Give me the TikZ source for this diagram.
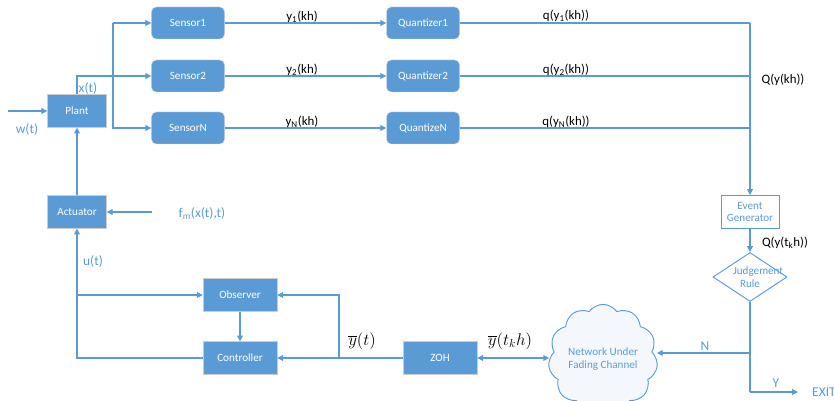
\documentclass[tikz,border=0pt]{standalone}
\usepackage{fontspec}
\setmainfont{Carlito}
\usetikzlibrary{arrows.meta,shapes.geometric,shapes.symbols}
\definecolor{boxblue}{HTML}{5B9BD5}
\definecolor{lineblue}{HTML}{5B9BD5}
\definecolor{cloudfill}{HTML}{F4F8FD}

\begin{document}
\begin{tikzpicture}[x=0.03cm,y=-0.03cm,
    arr/.style={-{Triangle[length=5pt,width=5pt]},line width=0.9pt,draw=lineblue},
    dblarr/.style={{Triangle[length=5pt,width=5pt]}-{Triangle[length=5pt,width=5pt]},line width=0.9pt,draw=lineblue},
    wire/.style={line width=0.9pt,draw=lineblue},
    roundbox/.style={draw=gray!30,fill=boxblue,text=white,rounded corners=4pt,minimum width=2.19cm,minimum height=0.96cm,inner sep=1pt,font=\fontsize{9.5}{11}\selectfont},
    sqbox/.style={draw=gray!40,fill=boxblue,text=white,minimum height=0.98cm,inner sep=1pt,font=\fontsize{9.5}{11}\selectfont},
    whitebox/.style={draw=lineblue,line width=0.8pt,fill=white,text=lineblue,align=center,minimum width=1.74cm,minimum height=0.99cm,inner sep=1pt,font=\fontsize{9.5}{11}\selectfont},
    judgebox/.style={diamond,draw=lineblue,line width=0.8pt,fill=white,text=lineblue,align=center,text width=1cm,aspect=1.5,inner sep=0pt,minimum width=2.22cm,minimum height=1.47cm,font=\fontsize{9.5}{11}\selectfont},
    netcloud/.style={cloud,cloud puffs=11,cloud puff arc=110,draw=lineblue,line width=0.8pt,fill=cloudfill,text=lineblue,align=center,minimum width=3.05cm,minimum height=2.25cm,inner sep=0pt,font=\fontsize{9.5}{11}\selectfont},
    sig/.style={font=\fontsize{11}{13}\selectfont},
    bsig/.style={text=lineblue,font=\fontsize{11.5}{13}\selectfont},
    msig/.style={font=\fontsize{14}{16}\selectfont}]

    \useasboundingbox (0,0) rectangle (834,401);

    \node[roundbox] (s1) at (188,23) {Sensor1};
    \node[roundbox] (s2) at (188,76) {Sensor2};
    \node[roundbox] (sN) at (188,128) {SensorN};

    \node[roundbox] (q1) at (423,23) {Quantizer1};
    \node[roundbox] (q2) at (423,76) {Quantizer2};
    \node[roundbox] (qN) at (423,128) {QuantizeN};

    \node[sqbox,minimum width=1.77cm] (plant) at (77,111) {Plant};
    \node[sqbox,minimum width=1.77cm] (act) at (77,212) {Actuator};
    \node[sqbox,minimum width=2.22cm] (obs) at (240,295) {Observer};
    \node[sqbox,minimum width=2.22cm] (ctrl) at (240,358) {Controller};
    \node[sqbox,minimum width=2.22cm] (zoh) at (440,358) {ZOH};

    \node[whitebox] (evg) at (750,212) {Event\\Generator};
    \node[judgebox] (judge) at (750,277) {Judgement\\Rule};
    \node[netcloud] (net) at (603,359) {Network Under\\Fading Channel};

    \coordinate (win) at (8,111);
    \coordinate (sb1) at (113,23);
    \coordinate (qr1) at (750,23);
    \coordinate (fmin) at (152,212);
    \coordinate (ub) at (77,295);
    \coordinate (yb) at (339,358);
    \coordinate (jn) at (750,353);
    \coordinate (jy) at (750,392);
    \coordinate (exitpt) at (798,392);

    \draw[arr] (win) -- (plant.west);
    \draw[arr] (plant.north) |- (s2.west);
    \draw[arr] (sb1) -- (s1.west);
    \draw[arr] (sb1) |- (sN.west);

    \draw[arr] (s1.east) -- (q1.west);
    \draw[arr] (s2.east) -- (q2.west);
    \draw[arr] (sN.east) -- (qN.west);

    \draw[wire] (q1.east) -- (qr1);
    \draw[wire] (q2.east) -- (q2.east -| qr1);
    \draw[wire] (qN.east) -- (qN.east -| qr1);
    \draw[arr] (qr1) -- (evg.north);
    \draw[arr] (evg.south) -- (judge.north);
    \draw[wire] (judge.south) -- (jy);
    \draw[arr] (jy) -- (exitpt);
    \draw[arr] (jn) -- (jn -| net.east);

    \draw[dblarr] (zoh.east) -- (zoh.east -| net.west);
    \draw[arr] (zoh.west) -- (ctrl.east);
    \draw[arr] (yb) |- (obs.east);
    \draw[arr] (obs.south) -- (ctrl.north);
    \draw[arr] (ctrl.west) -| (act.south);
    \draw[arr] (ub) -- (obs.west);
    \draw[arr] (fmin) -- (act.east);
    \draw[arr] (act.north) -- (plant.south);

    \node[bsig] (xt) at (88,89) {x(t)};
    \node[bsig] (wt) at (27,130) {w(t)};
    \node[bsig] (fm) at (202,214) {f\textsubscript{m}(x(t),t)};
    \node[bsig] (ut) at (93,262) {u(t)};
    \node[bsig] (nlab) at (705,346) {N};
    \node[bsig] (ylab) at (776,383) {Y};
    \node[bsig,anchor=west,inner sep=0pt] (exitlab) at (812,392) {EXIT};

    \node[sig] (y1) at (302,17) {y\textsubscript{1}(kh)};
    \node[sig] (y2) at (302,70) {y\textsubscript{2}(kh)};
    \node[sig] (yN) at (302,122) {y\textsubscript{N}(kh)};
    \node[sig] (qy1) at (566,16) {q(y\textsubscript{1}(kh))};
    \node[sig] (qy2) at (566,70) {q(y\textsubscript{2}(kh))};
    \node[sig] (qyN) at (566,122) {q(y\textsubscript{N}(kh))};
    \node[sig] (Qy) at (783,80) {Q(y(kh))};
    \node[sig] (Qyt) at (785,243) {Q(y(t\textsubscript{k}h))};

    \node[msig] (ybt) at (362,341) {$\overline{y}(t)$};
    \node[msig] (ybk) at (510,341) {$\overline{y}(t_k h)$};

\end{tikzpicture}
\end{document}
